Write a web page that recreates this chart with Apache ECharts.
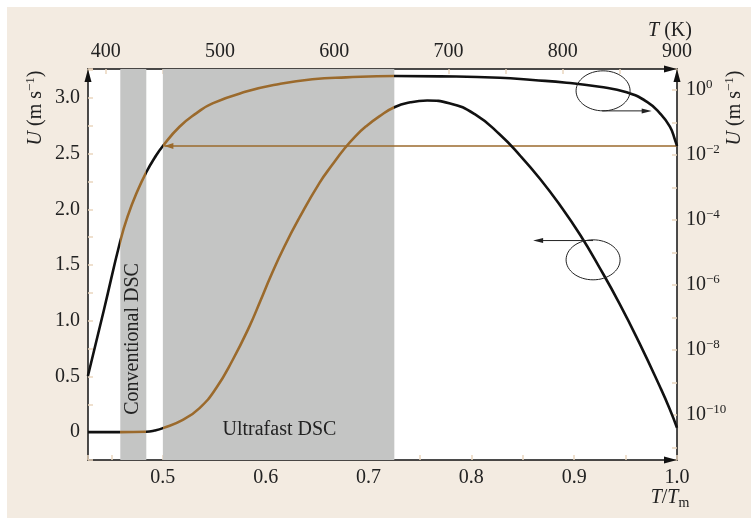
<!DOCTYPE html>
<html><head><meta charset="utf-8">
<script src="https://cdn.jsdelivr.net/npm/echarts@6/dist/echarts.min.js"></script>
<style>
html,body{margin:0;padding:0;background:#fff;}
#bg{position:absolute;left:7px;top:7px;width:744px;height:511px;background:#f3ebe1;}
#chart{position:absolute;left:0;top:0;width:751px;height:520px;}
</style></head><body>
<div id="bg"></div><div id="chart"></div>
<script>
// ---- axis ranges ----
const ratioRange = [0.4272, 1.0];          // T/Tm
const tempRange = [384.5, 900];            // T (K)
const leftRange = [-0.25, 3.26];           // U (m/s), linear
const rightExpRange = [-11.385, 0.646];    // log10 U (m/s)

// ---- shaded measurement windows (T/Tm) ----
const bandConventional = [0.4586, 0.4839];
const bandUltrafast = [0.5, 0.7251];

// ---- growth rate, linear scale (left axis) ----
const bellX = [0.4272, 0.4586, 0.4839, 0.4920, 0.5000, 0.5194, 0.5357, 0.5519, 0.5680, 0.5842, 0.5949, 0.6053, 0.6182, 0.6328, 0.6522, 0.6649, 0.6765, 0.6872, 0.6976, 0.7105, 0.7251, 0.7406, 0.7571, 0.7785, 0.8044, 0.8277, 0.8472, 0.8667, 0.8861, 0.9056, 0.9247, 0.9442, 0.9636, 0.9831, 0.9928, 1.0000];
const bellU = [0, 0, 0.004, 0.015, 0.036, 0.111, 0.216, 0.396, 0.650, 0.950, 1.180, 1.409, 1.667, 1.925, 2.236, 2.402, 2.544, 2.656, 2.745, 2.835, 2.917, 2.961, 2.977, 2.953, 2.848, 2.672, 2.485, 2.275, 2.039, 1.774, 1.477, 1.152, 0.797, 0.414, 0.211, 0.040];

// ---- growth rate, log scale (right axis) ----
const logX = [0.4271, 0.4429, 0.4586, 0.4660, 0.4757, 0.4839, 0.4919, 0.5000, 0.5162, 0.5324, 0.5483, 0.5810, 0.6134, 0.6454, 0.6782, 0.7251, 0.7700, 0.8277, 0.8598, 0.8926, 0.9247, 0.9510, 0.9705, 0.9834, 0.9931, 0.9981, 1.0000];
const logU = [1.58e-9, 1.83e-7, 2.26e-5, 1.37e-4, 8.38e-4, 2.94e-3, 8.09e-3, 1.89e-2, 7.41e-2, 0.191, 0.389, 0.891, 1.53, 2.14, 2.45, 2.69, 2.63, 2.39, 2.03, 1.68, 1.26, 0.849, 0.437, 0.192, 0.0743, 0.0290, 0.0189];

// ---- horizontal reference arrow ----
const refU = 0.0189;
const refX = [1.0, 0.5015];

const BLACK = '#111111', BROWN = '#9b6a2c', GRAY = '#c4c5c4', TICK = '#ead6bf', TXT = '#222222';
const SERIF = 'Liberation Serif';

const chart = echarts.init(document.getElementById('chart'), null, {renderer: 'canvas'});

const axisLineCommon = () => ({
  show: true, onZero: false,
  symbol: ['none', 'triangle'], symbolSize: [7, 13], symbolOffset: [0, -6.5],
  lineStyle: {color: BLACK, width: 1.5}
});
const tickCommon = {show: true, inside: true, length: 5, lineStyle: {color: TICK, width: 1.5}};
const isMult = (v, m) => Math.abs(v / m - Math.round(v / m)) < 1e-6;

const option = {
  backgroundColor: 'transparent',
  animation: false,
  grid: {left: 88, right: 74, top: 69, bottom: 60, show: true, backgroundColor: '#ffffff', borderWidth: 0, containLabel: false, outerBoundsMode: 'none'},
  xAxis: [
    {type: 'value', position: 'bottom', min: ratioRange[0], max: ratioRange[1], splitNumber: 11,
     axisLine: axisLineCommon(), axisTick: tickCommon, splitLine: {show: false},
     axisLabel: {margin: 8, color: TXT, fontFamily: SERIF, fontSize: 20,
       formatter: v => (isMult(v, 0.1) && v >= 0.5 - 1e-9) ? v.toFixed(1) : ''}},
    {type: 'value', position: 'top', min: tempRange[0], max: tempRange[1], splitNumber: 10,
     axisLine: axisLineCommon(), axisTick: tickCommon, splitLine: {show: false},
     axisLabel: {margin: 7, color: TXT, fontFamily: SERIF, fontSize: 20,
       formatter: v => (isMult(v, 100) && v >= 400) ? String(Math.round(v)) : ''}}
  ],
  yAxis: [
    {type: 'value', position: 'left', min: leftRange[0], max: leftRange[1], interval: 0.25,
     axisLine: axisLineCommon(), axisTick: tickCommon, splitLine: {show: false},
     axisLabel: {margin: 8, color: TXT, fontFamily: SERIF, fontSize: 20,
       formatter: v => (isMult(v, 0.5) && v >= -1e-9 && v <= 3.0001) ? (Math.abs(v) < 1e-9 ? '0' : v.toFixed(1)) : ''}},
    {type: 'value', position: 'right', min: rightExpRange[0], max: rightExpRange[1], splitNumber: 12,
     axisLine: axisLineCommon(), axisTick: tickCommon, splitLine: {show: false},
     axisLabel: {margin: 9, color: TXT, fontFamily: SERIF, fontSize: 20,
       formatter: v => {
         if (!isMult(v, 1)) return '';
         const e = Math.round(v);
         if (e % 2 !== 0 || e > 0 || e < -10) return '';
         return '{b|10}{s|' + (e === 0 ? '0' : '\u2212' + (-e)) + '}';
       },
       rich: {b: {fontFamily: SERIF, fontSize: 20, lineHeight: 24, color: TXT},
              s: {fontFamily: SERIF, fontSize: 13, lineHeight: 12, verticalAlign: 'top', color: TXT}}}}
  ],
  visualMap: [{
    type: 'piecewise', show: false, dimension: 0, seriesIndex: [1, 2],
    pieces: [
      {lt: bandConventional[0], color: BLACK},
      {gte: bandConventional[0], lt: bandConventional[1], color: BROWN},
      {gte: bandConventional[1], lt: bandUltrafast[0], color: BLACK},
      {gte: bandUltrafast[0], lte: bandUltrafast[1], color: BROWN},
      {gt: bandUltrafast[1], color: BLACK}
    ]
  }],
  series: [
    {type: 'line', xAxisIndex: 0, yAxisIndex: 0, data: [], z: 1, silent: true,
     markArea: {silent: true, itemStyle: {color: GRAY, opacity: 1},
       data: [[{xAxis: bandConventional[0]}, {xAxis: bandConventional[1]}],
              [{xAxis: bandUltrafast[0]}, {xAxis: bandUltrafast[1]}]]}},
    {type: 'line', name: 'linear', xAxisIndex: 0, yAxisIndex: 0, z: 4,
     data: bellX.map((x, i) => [x, bellU[i]]), showSymbol: false, smooth: 0.5,
     lineStyle: {width: 2.6}},
    {type: 'line', name: 'log', xAxisIndex: 0, yAxisIndex: 1, z: 4,
     data: logX.map((x, i) => [x, Math.log10(logU[i])]), showSymbol: false, smooth: 0.5,
     lineStyle: {width: 2.6}},
    {type: 'line', name: 'ref', xAxisIndex: 0, yAxisIndex: 1, z: 3,
     data: refX.map(x => [x, Math.log10(refU)]), showSymbol: false,
     lineStyle: {color: BROWN, width: 1.5}, itemStyle: {color: BROWN}}
  ]
};
chart.setOption(option);

// ---- annotations (placed from data coordinates) ----
const P = (x, y, s) => chart.convertToPixel({seriesIndex: s}, [x, y]);
const refTip = P(refX[1], Math.log10(refU), 3);
const e1 = P(0.9281, 3.064, 1);
const a1s = P(0.9272, 2.884, 1), a1e = P(0.9754, 2.884, 1);
const e2 = P(0.9184, 1.547, 1);
const a2s = P(0.9184, 1.72, 1), a2e = P(0.8601, 1.72, 1);
const ultra = P(0.6134, 0.02, 1);
const conv = P(0.4711, 0.837, 1);

function head(tip, dir, len, hw, color) {
  return {type: 'polygon', z: 50, shape: {points: [tip, [tip[0] - dir * len, tip[1] - hw], [tip[0] - dir * len, tip[1] + hw]]},
    style: {fill: color}};
}
const rich = {
  i: {fontFamily: SERIF, fontSize: 20, fontStyle: 'italic', fill: TXT, lineHeight: 24},
  n: {fontFamily: SERIF, fontSize: 20, fill: TXT, lineHeight: 24},
  s: {fontFamily: SERIF, fontSize: 13, fill: TXT, lineHeight: 12, verticalAlign: 'top'},
  m: {fontFamily: SERIF, fontSize: 14, fill: TXT, lineHeight: 12, verticalAlign: 'bottom'}
};
function label(x, y, text, opts) {
  return Object.assign({type: 'text', z: 50, x: x, y: y,
    style: {text: text, rich: rich, font: '20px "Liberation Serif"', fill: TXT, align: 'center', verticalAlign: 'middle'}}, opts || {});
}

chart.setOption({graphic: [
  head(refTip, -1, 9, 3, BROWN),
  {type: 'ellipse', z: 50, shape: {cx: e1[0], cy: e1[1], rx: 27, ry: 20}, style: {fill: 'none', stroke: '#222', lineWidth: 1}},
  {type: 'line', z: 50, shape: {x1: a1s[0], y1: a1s[1], x2: a1e[0] - 8, y2: a1e[1]}, style: {stroke: '#222', lineWidth: 1}},
  head(a1e, 1, 10, 2.5, '#222'),
  {type: 'ellipse', z: 50, shape: {cx: e2[0], cy: e2[1], rx: 27, ry: 20}, style: {fill: 'none', stroke: '#222', lineWidth: 1}},
  {type: 'line', z: 50, shape: {x1: a2s[0], y1: a2s[1], x2: a2e[0] + 8, y2: a2e[1]}, style: {stroke: '#222', lineWidth: 1}},
  head(a2e, -1, 10, 2.5, '#222'),
  label(ultra[0], ultra[1], 'Ultrafast DSC'),
  label(conv[0], conv[1], 'Conventional DSC', {rotation: Math.PI / 2}),
  label(36, 108, '{i|U}{n| (m s}{s|\u22121}{n|)}', {rotation: Math.PI / 2}),
  label(735, 108, '{i|U}{n| (m s}{s|\u22121}{n|)}', {rotation: Math.PI / 2}),
  label(670, 31, '{i|T}{n| (K)}'),
  label(670, 498, '{i|T}{n|/}{i|T}{m|m}')
]});
</script>
</body></html>
